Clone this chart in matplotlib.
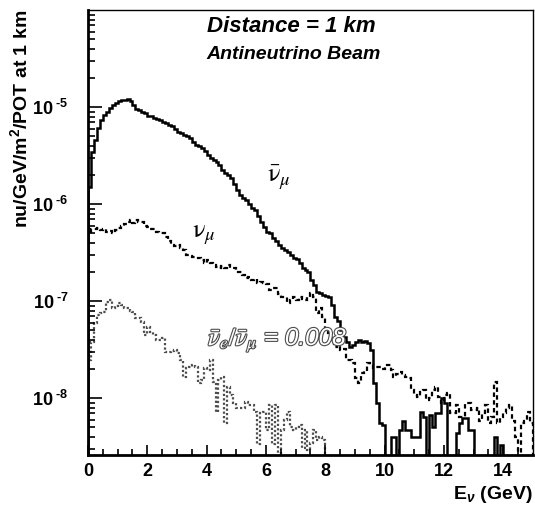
import numpy as np
import matplotlib
matplotlib.use("Agg")
import matplotlib.pyplot as plt
import matplotlib.patheffects as pe
from matplotlib.ticker import FixedLocator, LogLocator, NullFormatter

plt.rcParams['font.family'] = ['Liberation Sans', 'DejaVu Sans']
plt.rcParams['mathtext.fontset'] = 'custom'
plt.rcParams['mathtext.rm'] = 'Liberation Sans:bold'
plt.rcParams['mathtext.bf'] = 'Liberation Sans:bold'
plt.rcParams['mathtext.it'] = 'Liberation Sans:bold:italic'

# bin edges: 0.1 GeV bins from 0 to 15 GeV
edges = np.round(np.arange(0, 15.01, 0.1), 2)
edges_nue = np.round(np.arange(0, 8.01, 0.1), 2)

# flux in units of 1e-8 nu/GeV/m^2/POT
# anti nu_mu (solid)
nubar_mu = np.array([
    150, 344, 457, 608, 735, 827, 888, 977, 1049, 1099,
    1153, 1181, 1181, 1209, 1153, 1049, 950, 932, 888, 867,
    808, 820, 770, 760, 735, 700, 684, 652, 640, 600,
    560, 540, 520, 500, 479, 436, 406, 400, 378, 350,
    320, 298, 284, 271, 252, 224, 209, 199, 185, 160,
    140, 125, 115, 110, 100, 91, 86.8, 75, 65, 58,
    52, 50, 44.6, 42, 38, 35, 33.6, 32, 30, 27.8,
    27, 25, 22, 20.9, 19.9, 16.5, 14.6, 12.6, 12.1, 11.5,
    11.2, 11, 9.1, 6.84, 6.2, 5.0, 4.25, 3.8, 3.36, 3.5,
    3.78, 3.96, 3.78, 3.9, 3.7, 3.12, 1.43, 0.89, 0.55, 0.53,
    0, 0, 0.40, 0.40, 0, 0.47, 0.59, 0.47, 0.47, 0.40,
    0.40, 0.40, 0.72, 0.64, 0, 0.67, 0.5, 0.7, 0.7, 1.0,
    0.9, 0, 0, 0, 0.44, 0.55, 0.62, 0.62, 0.47, 0.47,
    0, 0, 0, 0, 0, 0, 0, 0.4, 0, 0.33,
    0, 0, 0, 0, 0, 0, 0, 0, 0, 0,
])

# nu_mu (dashed)
nu_mu = np.array([
    52, 56, 55, 57, 54, 55, 52, 53, 50, 54,
    57, 60, 62, 66, 68, 64, 68, 65, 65, 60,
    58, 55, 56, 52, 51, 51, 46, 42, 38, 37,
    38, 35, 33.6, 30, 29, 28.4, 28, 27.8, 26.5, 25,
    26.5, 24.7, 23.5, 22.5, 21.9, 23, 22, 23.5, 22, 21.9,
    20, 19.9, 18.5, 17.3, 17.8, 16.5, 17, 15.3, 15.8, 15.3,
    15, 13, 13.6, 13.6, 12, 11, 11, 9.5, 10.2, 11,
    10.2, 11, 10.5, 10.2, 11, 12.1, 11, 7.5, 8.47, 6.84,
    5.0, 4.68, 3.78, 3.36, 3.5, 3.12, 3.2, 2.46, 2.5, 2.3,
    1.6, 1.43, 1.81, 1.9, 2.3, 2.2, 2.04, 2.1, 2.09, 2.0,
    2.19, 2.19, 1.94, 1.65, 1.8, 1.85, 1.73, 1.65, 1.61, 1.21,
    1.07, 1.02, 1.15, 1.21, 0.95, 1.0, 1.21, 1.3, 1.02, 0.89,
    1.07, 1.13, 0.70, 0.70, 0.85, 0.64, 0.64, 0.89, 0.89, 0.75,
    0.75, 0.79, 0.59, 0.70, 0.85, 0.55, 0.64, 1.46, 0.55, 0.64,
    0.70, 0.79, 0.85, 0.59, 0.40, 0.1, 0.55, 0.59, 0.72, 0.55,
])

# anti nu_e + nu_e (dotted), 0-8 GeV
nu_e = np.array([
    2.5, 3.8, 6.0, 7.2, 7.5, 7.7, 9.8, 10.2, 8.5, 9.0,
    9.7, 9.1, 8.5, 8.5, 8.0, 7.7, 6.8, 6.7, 6.1, 4.5,
    5.4, 4.8, 4.5, 4.0, 3.96, 4.16, 3.0, 2.98, 3.1, 3.12,
    2.91, 2.46, 1.65, 2.04, 2.1, 2.19, 2.1, 1.43, 1.53, 2.04,
    1.94, 2.46, 1.46, 0.72, 1.53, 1.65, 0.55, 1.30, 1.07, 0.9,
    0.79, 0.8, 0.79, 0.92, 0.85, 0.85, 0.72, 0.34, 0.70, 0.72,
    0.47, 0.85, 0.34, 0.85, 0.27, 0.47, 0.6, 0.72, 0.50, 0.47,
    0.5, 0.53, 0.31, 0.47, 0.29, 0.35, 0.47, 0.37, 0.40, 0.37,
])

ytick_vals = [1e-8, 1e-7, 1e-6, 1e-5]
ytick_labels = [r'$10^{\;\text{-8}}$', r'$10^{\;\text{-7}}$',
                r'$10^{\;\text{-6}}$', r'$10^{\;\text{-5}}$']

scale = 1e-8
floor = 1e-12  # empty bins fall below the axis


def as_flux(v):
    v = np.asarray(v, dtype=float) * scale
    return np.where(v > 0, v, floor)


fig = plt.figure(figsize=(5.35, 5.09), dpi=100)
ax = fig.add_axes([0.1645, 0.106, 0.8315, 0.874])

ax.stairs(as_flux(nubar_mu), edges, baseline=floor, color='black', linewidth=1.8)
ax.stairs(as_flux(nu_mu), edges, baseline=floor, color='black', linewidth=1.6,
          linestyle=(0, (2, 1.5)))
ax.stairs(as_flux(nu_e), edges_nue, baseline=floor, color='0.3', linewidth=1.6,
          linestyle=(0, (1, 1)))

ax.set_yscale('log')
ax.set_xlim(0, 15)
ax.set_ylim(2.6e-9, 1e-4)

# ticks
ax.xaxis.set_major_locator(FixedLocator([0, 2, 4, 6, 8, 10, 12, 14]))
ax.xaxis.set_minor_locator(FixedLocator(np.arange(0.5, 15, 0.5)))
ax.yaxis.set_major_locator(FixedLocator(ytick_vals))
ax.yaxis.set_minor_locator(LogLocator(base=10, subs=np.arange(2, 10), numticks=20))
ax.yaxis.set_minor_formatter(NullFormatter())
ax.set_yticklabels(ytick_labels)
ax.tick_params(axis='both', which='both', direction='in', top=False, right=False,
               width=1.2, labelsize=13)
ax.tick_params(axis='x', which='major', length=7, pad=6)
ax.tick_params(axis='x', which='minor', length=4)
ax.tick_params(axis='y', which='major', length=10, pad=14)
ax.tick_params(axis='y', which='minor', length=5)
for lab in ax.get_xticklabels():
    lab.set_fontweight('bold')

ax.spines['left'].set_linewidth(2)
ax.spines['bottom'].set_linewidth(2)
ax.spines['top'].set_linewidth(1)
ax.spines['right'].set_linewidth(1)

ax.set_ylabel(r'nu/GeV/m$^2$/POT at 1 km', fontsize=14, fontweight='bold',
              ha='right', va='center')
ax.yaxis.set_label_coords(-0.152, 1.0)
ax.set_xlabel(r'E$_\nu$ (GeV)', fontsize=14, fontweight='bold')
ax.xaxis.set_label_coords(0.91, -0.065)

ax.text(0.267, 0.963, 'Distance = 1 km', transform=ax.transAxes, ha='left', va='center',
        fontsize=16, fontweight='bold', fontstyle='italic')
ax.text(0.267, 0.9, 'Antineutrino Beam', transform=ax.transAxes, ha='left', va='center',
        fontsize=14, fontweight='bold', fontstyle='italic')

ax.text(6.03, 1.9e-6, r'$\bar{\mathrm{\nu}}_\mu$', fontsize=19, math_fontfamily='stix',
        ha='left', va='center')
ax.text(3.5, 4.8e-7, r'$\mathrm{\nu}_\mu$', fontsize=19, math_fontfamily='stix',
        ha='left', va='center')
ax.text(4.05, 4.0e-8, r'$\bar{\nu}_e/\bar{\nu}_\mu$ = 0.008', fontsize=17.5,
        fontstyle='italic', math_fontfamily='stix', ha='left', va='center',
        color='white',
        path_effects=[pe.withStroke(linewidth=1.6, foreground='0.3')])

fig.savefig('out.png', dpi=100)
